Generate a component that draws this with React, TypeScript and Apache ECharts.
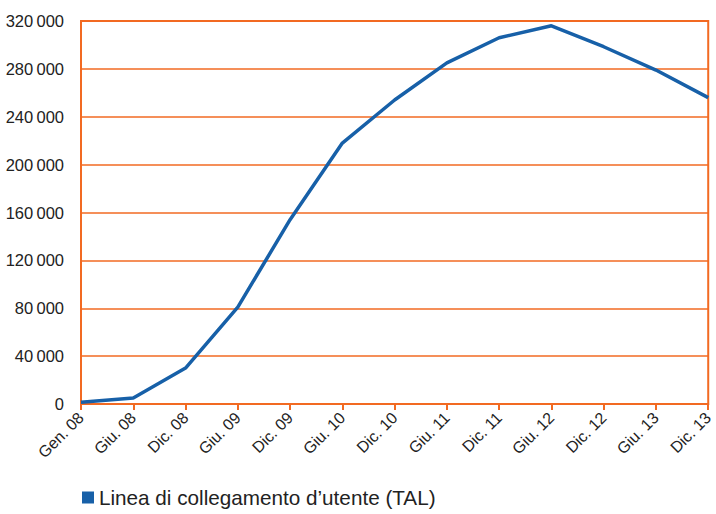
import React, { useEffect, useRef } from "react";
import * as echarts from "echarts";

const categories = ["Gen. 08", "Giu. 08", "Dic. 08", "Giu. 09", "Dic. 09", "Giu. 10", "Dic. 10", "Giu. 11", "Dic. 11", "Giu. 12", "Dic. 12", "Giu. 13", "Dic. 13"];
const talValues = [1500, 5000, 30000, 81000, 154000, 218000, 254000, 285000, 306000, 316000, 298500, 279000, 256000];
const seriesName = "Linea di collegamento d\u2019utente (TAL)";

const ORANGE = "#f26a22";
const BLUE = "#1760a8";
const FONT = "Liberation Sans, Arial, sans-serif";

export default function App() {
  const ref = useRef<HTMLDivElement>(null);
  useEffect(() => {
    const chart = echarts.init(ref.current!, null, { renderer: "svg" });
    chart.setOption({
      animation: false,
      textStyle: { fontFamily: FONT },
      grid: { left: 81, right: 7, top: 21, bottom: 110, show: true, borderColor: ORANGE, borderWidth: 2, containLabel: false },
      legend: {
        data: [seriesName],
        left: 77,
        top: 482,
        icon: "rect",
        itemWidth: 12,
        itemHeight: 12,
        itemGap: 8,
        textStyle: { fontSize: 20.7, color: "#222", fontFamily: FONT },
      },
      xAxis: {
        type: "category",
        data: categories,
        boundaryGap: false,
        axisLine: { lineStyle: { color: ORANGE, width: 2 } },
        axisTick: { show: true, length: 6, lineStyle: { color: ORANGE, width: 2 } },
        axisLabel: { rotate: 45, fontSize: 16, color: "#222", margin: 11, interval: 0 },
        splitLine: { show: false },
      },
      yAxis: {
        type: "value",
        min: 0,
        max: 320000,
        interval: 40000,
        axisLine: { show: true, lineStyle: { color: ORANGE, width: 2 } },
        axisTick: { show: false },
        axisLabel: {
          fontSize: 16.5,
          color: "#222",
          margin: 17,
          formatter: (v: number) => {
            if (v === 0) return "0";
            const s = String(v);
            return s.slice(0, s.length - 3) + "\u2009" + s.slice(s.length - 3);
          },
        },
        splitLine: { show: true, lineStyle: { color: ORANGE, width: 1.5 } },
      },
      series: [
        {
          name: seriesName,
          type: "line",
          data: talValues,
          symbol: "none",
          lineStyle: { color: BLUE, width: 3.5 },
          itemStyle: { color: BLUE },
        },
      ],
    });
    return () => chart.dispose();
  }, []);
  return <div ref={ref} style={{ width: 716, height: 514, position: "absolute", left: 0, top: 0 }} />;
}
